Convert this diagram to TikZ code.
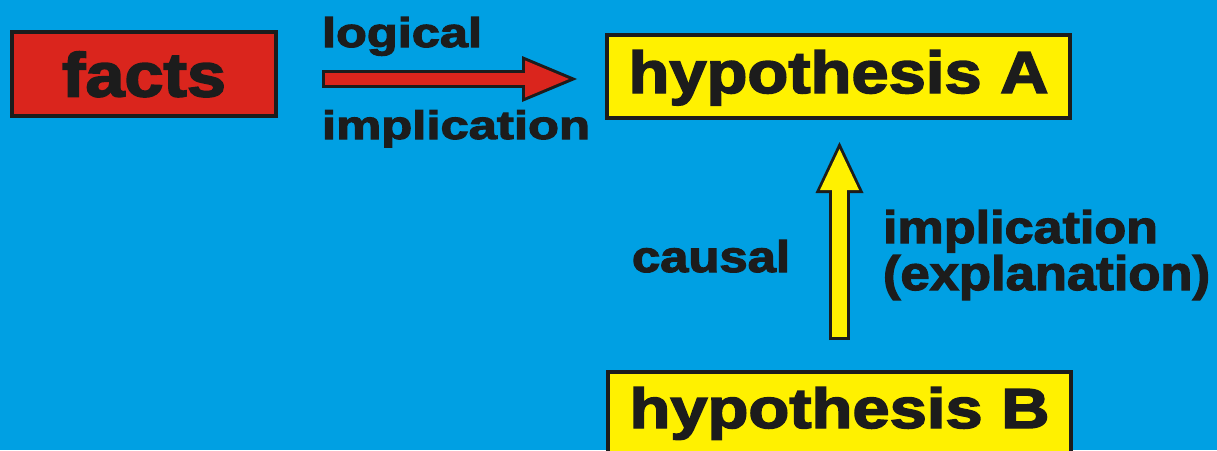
\documentclass[tikz,border=0pt]{standalone}
\usepackage{fontspec}
\setmainfont{Liberation Sans}
\newfontfamily\heavy{Liberation Sans}[UprightFont={* Bold},FakeBold=2.5]
\usetikzlibrary{arrows.meta,calc}
\definecolor{bgblue}{RGB}{0,160,227}
\definecolor{boxred}{RGB}{218,37,29}
\definecolor{boxyellow}{RGB}{255,241,0}
\definecolor{ink}{RGB}{28,28,28}
\newcommand{\fittext}[3]{\resizebox{#1}{#2}{\heavy #3}}
\begin{document}
\begin{tikzpicture}[x=1pt,y=-1pt,
  box/.style={draw=ink, line width=4pt, outer sep=0pt, inner sep=0pt, text=ink,
    minimum width=463pt, minimum height=83pt},
  lbl/.style={inner sep=0pt, outer sep=0pt, text=ink, anchor=base west},
  outerred/.style={line width=18pt, draw=ink,
    -{Triangle[length=55pt 0 0,width=46pt 0 0,line width=0pt 0 0]}},
  innerred/.style={line width=12pt, draw=boxred,
    -{Triangle[length=44pt 0 0,width=37pt 0 0,line width=0pt 0 0]}},
  outeryel/.style={line width=21pt, draw=ink,
    -{Triangle[length=51pt 0 0,width=48pt 0 0,line width=0pt 0 0]}},
  inneryel/.style={line width=15pt, draw=boxyellow,
    -{Triangle[length=41pt 0 0,width=39pt 0 0,line width=0pt 0 0]}}
]
\fill[bgblue] (0,0) rectangle (1217,450);
\useasboundingbox (0,0) rectangle (1217,450);
\clip (0,0) rectangle (1217,450);

\node[box, fill=boxred, minimum width=264pt, minimum height=84pt,
  text height=45pt, text depth=0pt] (facts) at (144,74)
  {\fittext{164pt}{45pt}{facts}};
\node[box, fill=boxyellow, text height=43pt, text depth=10pt] (hypA) at (838.5,76.5)
  {\fittext{420pt}{43pt}{hypothesis A}};
\node[box, fill=boxyellow, text height=41pt, text depth=12pt] (hypB) at (839.5,413.5)
  {\fittext{420pt}{41pt}{hypothesis B}};

\node[lbl] (logical) at (322,47) {\fittext{160pt}{30pt}{logical}};
\node[lbl] (impl1) at (322,139) {\fittext{268pt}{29pt}{implication}};
\node[lbl] (causal) at (632,272) {\fittext{158pt}{32pt}{causal}};
\node[lbl] (impl2) at (883,243) {\fittext{275pt}{33pt}{implication}};
\node[lbl] (expl) at (883,290) {\fittext{327pt}{35pt}{(explanation)}};

\draw[outerred, shorten <=46pt, shorten >=30pt]
  ([yshift=-5pt]facts.east) -- ([yshift=-2.5pt]hypA.west);
\draw[innerred, shorten <=49pt, shorten >=38pt]
  ([yshift=-5pt]facts.east) -- ([yshift=-2.5pt]hypA.west);

\draw[outeryel, shorten <=32pt, shorten >=24pt]
  (hypB.north) -- ([xshift=1pt]hypA.south);
\draw[inneryel, shorten <=35pt, shorten >=31pt]
  (hypB.north) -- ([xshift=1pt]hypA.south);
\end{tikzpicture}
\end{document}
